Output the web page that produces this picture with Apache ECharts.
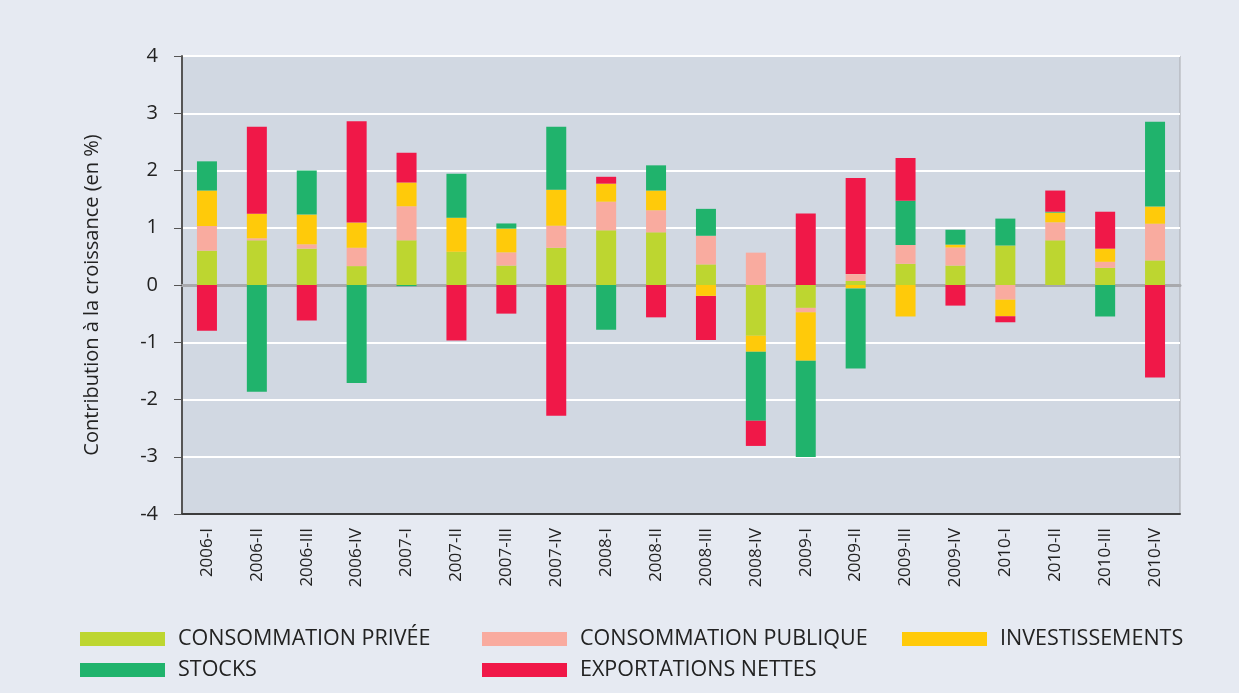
<!DOCTYPE html>
<html>
<head>
<meta charset="utf-8">
<script src="https://cdn.jsdelivr.net/npm/echarts@6/dist/echarts.min.js"></script>
<style>
  html, body { margin: 0; padding: 0; background: #e6eaf2; }
  #chart { width: 1239px; height: 693px; }
</style>
</head>
<body>
<div id="chart"></div>
<script>
// contributions à la croissance, par trimestre
const quarters = [
  "2006-I", "2006-II", "2006-III", "2006-IV",
  "2007-I", "2007-II", "2007-III", "2007-IV",
  "2008-I", "2008-II", "2008-III", "2008-IV",
  "2009-I", "2009-II", "2009-III", "2009-IV",
  "2010-I", "2010-II", "2010-III", "2010-IV",
];
const consoPrivee = [0.60, 0.78, 0.635, 0.33, 0.78, 0.58, 0.34, 0.65, 0.955, 0.92, 0.36, -0.886, -0.40, 0.07, 0.37, 0.34, 0.69, 0.78, 0.30, 0.43];
const consoPublique = [0.43, 0.035, 0.075, 0.32, 0.595, 0, 0.23, 0.385, 0.50, 0.385, 0.50, 0.565, -0.075, 0.12, 0.33, 0.315, -0.256, 0.315, 0.105, 0.64];
const investissements = [0.62, 0.43, 0.52, 0.44, 0.415, 0.595, 0.415, 0.63, 0.315, 0.345, -0.19, -0.28, -0.85, -0.06, -0.55, 0.05, -0.29, 0.17, 0.23, 0.30];
const stocks = [0.51, -1.865, 0.77, -1.71, -0.02, 0.77, 0.09, 1.10, -0.78, 0.44, 0.47, -1.205, -1.68, -1.40, 0.77, 0.26, 0.47, 0.015, -0.55, 1.48];
const exportsNettes = [-0.80, 1.52, -0.62, 1.77, 0.52, -0.97, -0.50, -2.285, 0.12, -0.565, -0.77, -0.44, 1.247, 1.68, 0.75, -0.36, -0.105, 0.37, 0.645, -1.614];

const FONT = "Open Sans";

const makeSeries = (name, data, color) => ({
  name: name,
  type: "bar",
  stack: "total",
  barWidth: 20,
  itemStyle: { color: color },
  data: data,
});

const legendStyle = {
  orient: "vertical",
  padding: 0,
  itemWidth: 85,
  itemHeight: 14,
  itemGap: 9,
  icon: "rect",
  textStyle: { fontFamily: FONT, fontSize: 21.5, color: "#222", padding: [0, 0, 0, 8], lineHeight: 20 },
};

const myChart = echarts.init(document.getElementById("chart"));
myChart.setOption({
  backgroundColor: "#e6eaf2",
  animation: false,
  grid: {
    left: 182,
    right: 59,
    top: 56,
    bottom: 179,
    show: true,
    backgroundColor: "#d1d8e2",
    borderColor: "#a9abb0",
    borderWidth: 1,
  },
  legend: [
    Object.assign({ left: 80, top: 628, data: ["CONSOMMATION PRIVÉE", "STOCKS"] }, legendStyle),
    Object.assign({ left: 482, top: 628, data: ["CONSOMMATION PUBLIQUE", "EXPORTATIONS NETTES"] }, legendStyle),
    Object.assign({ left: 902, top: 628, data: ["INVESTISSEMENTS"] }, legendStyle),
  ],
  xAxis: [
    {
      type: "category",
      data: quarters,
      position: "bottom",
      axisLine: { onZero: false, lineStyle: { color: "#3c3c3c", width: 2 } },
      axisTick: { show: false },
      axisLabel: { rotate: 90, margin: 14, fontFamily: FONT, fontSize: 17, color: "#222" },
    },
    {
      type: "category",
      data: quarters,
      axisLine: { onZero: true, lineStyle: { color: "#a8a9ad", width: 3 } },
      axisTick: { show: false },
      axisLabel: { show: false },
    },
  ],
  yAxis: {
    type: "value",
    min: -4,
    max: 4,
    interval: 1,
    name: "Contribution à la croissance (en %)",
    nameLocation: "middle",
    nameGap: 80,
    nameTextStyle: { fontFamily: FONT, fontSize: 20, color: "#222", padding: [0, 20, 0, 0] },
    axisLine: { show: true, lineStyle: { color: "#555", width: 2 } },
    axisTick: { show: true, length: 8, lineStyle: { color: "#555" } },
    axisLabel: { margin: 24, fontFamily: FONT, fontSize: 20, color: "#222" },
    splitLine: { lineStyle: { color: "#ffffff", width: 2 } },
  },
  series: [
    makeSeries("CONSOMMATION PRIVÉE", consoPrivee, "#bdd630"),
    makeSeries("CONSOMMATION PUBLIQUE", consoPublique, "#f9ab9f"),
    makeSeries("INVESTISSEMENTS", investissements, "#ffca0a"),
    makeSeries("STOCKS", stocks, "#20b36c"),
    makeSeries("EXPORTATIONS NETTES", exportsNettes, "#f01848"),
  ],
});

window.onresize = function () {
  myChart.resize();
};
</script>
</body>
</html>
